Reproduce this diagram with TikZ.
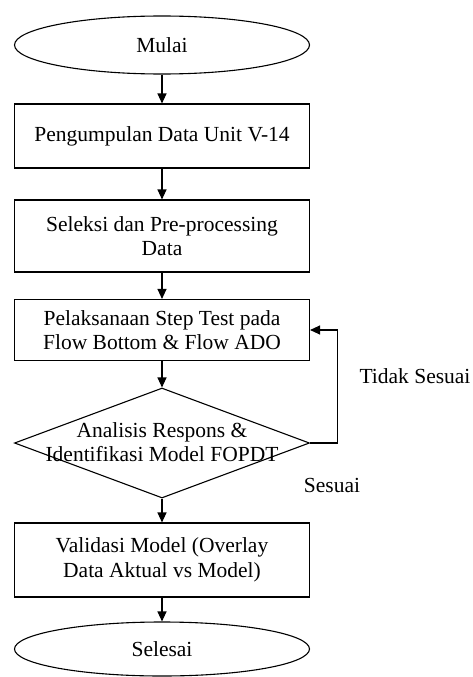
\documentclass[tikz,border=0pt]{standalone}
\usepackage{fontspec}
\setmainfont{Liberation Serif}
\usetikzlibrary{shapes.geometric,arrows.meta}

\begin{document}
\begin{tikzpicture}
  [x=1pt,y=-1pt,line width=1.1pt,>={Triangle[length=10pt,width=9pt]},
   every node/.style={font=\fontsize{21.5}{24.5}\selectfont,align=center},
   term/.style={draw,ellipse,minimum width=295pt,minimum height=58pt,inner sep=0pt},
   proc/.style={draw,rectangle,minimum width=295pt,inner sep=0pt},
   dec/.style={draw,diamond,minimum width=295pt,minimum height=110pt,inner sep=0pt}]
  \useasboundingbox (0,0) rectangle (473,677);

  \node[term] (start) at (162,45) {Mulai};
  \node[proc,minimum height=64pt] (b1) at (162,136) {Pengumpulan Data Unit V-14};
  \node[proc,minimum height=72pt] (b2) at (162,236) {Seleksi dan Pre-processing\\Data};
  \node[proc,minimum height=61pt] (b3) at (162,330) {Pelaksanaan Step Test pada\\Flow Bottom \& Flow ADO};
  \node[dec] (d1) at (162,443) {};
  \node (d1txt) at (162,442) {Analisis Respons \&\\Identifikasi Model FOPDT};
  \node[proc,minimum height=74pt] (b4) at (162,560) {Validasi Model (Overlay\\Data Aktual vs Model)};
  \node[term,minimum height=54pt] (stop) at (162,649) {Selesai};

  \node (no) at (415,376) {Tidak Sesuai};
  \node (yes) at (332,485) {Sesuai};

\path[->,draw]
    (start) edge (b1)
    (b1) edge (b2)
    (b2) edge (b3)
    (b3) edge (d1)
    (d1) edge (b4)
    (b4) edge (stop)
;
\draw[->] (d1.east) -- ++(27,0) |- (b3.east);
\end{tikzpicture}
\end{document}
